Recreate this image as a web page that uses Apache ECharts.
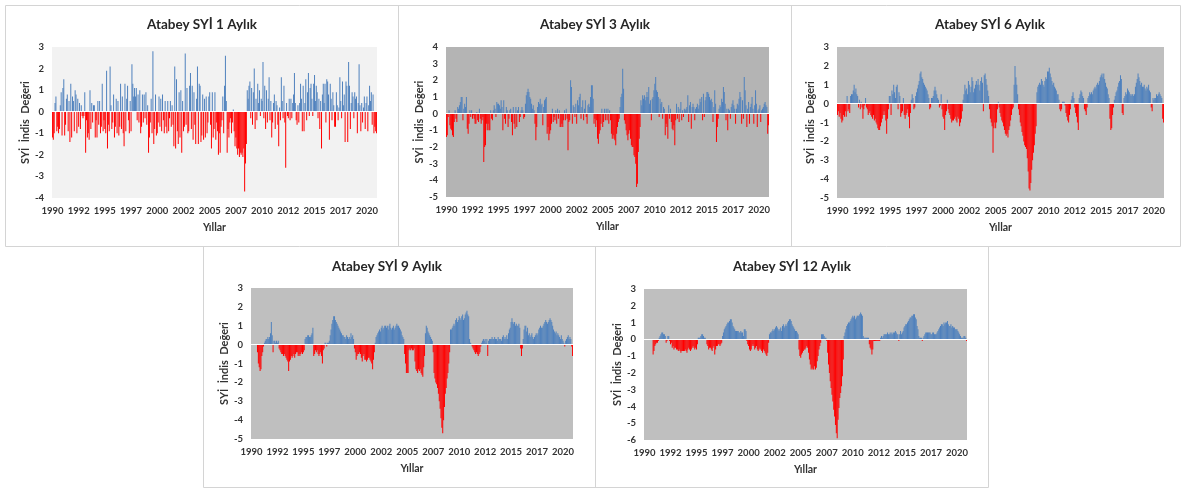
<!DOCTYPE html>
<html><head><meta charset="utf-8">
<script src="https://cdn.jsdelivr.net/npm/echarts@6/dist/echarts.min.js"></script>
<style>html,body{margin:0;padding:0;background:#fff}#c{width:1182px;height:488px}</style>
</head><body><div id="c"></div>
<script>
const years = [1990,1991,1992,1993,1994,1995,1996,1997,1998,1999,2000,2001,2002,2003,2004,2005,2006,2007,2008,2009,2010,2011,2012,2013,2014,2015,2016,2017,2018,2019,2020];
const titles = ['Atabey SYİ 1 Aylık','Atabey SYİ 3 Aylık','Atabey SYİ 6 Aylık','Atabey SYİ 9 Aylık','Atabey SYİ 12 Aylık'];
const yMins = [-4,-5,-5,-5,-6];
const yMaxs = [3,4,3,3,3];
const xName = 'Yıllar';
const yName = 'SYİ  İndis  Değeri';

const spi1 = [
-1.2,-1.3,-1.0,0.4,0.7,-0.9,-0.7,-1.0,-0.8,0.3,0.9,-1.1,
1.1,1.5,-1.1,-0.6,0.6,0.8,-0.9,0.5,-1.4,1.3,-1.2,0.7,
0.5,-0.9,1.0,0.8,-1.0,0.6,-0.7,0.4,-0.8,0.3,-0.2,-0.3,
-0.2,0.9,-1.9,-0.4,-1.2,-1.0,-1.3,1.0,-0.8,0.4,-0.5,0.3,
0.3,-1.2,-0.4,-1.2,0.5,-0.6,0.5,-1.0,-0.7,1.3,-0.9,-0.4,
-0.8,-1.0,1.9,-1.7,-0.6,-0.9,2.1,0.3,-0.8,-0.5,0.8,-1.2,
-0.7,0.6,-1.0,0.5,-1.1,-0.7,1.3,-0.8,0.7,-1.0,-1.6,1.3,
-0.9,0.6,1.2,-0.4,-1.0,0.5,-0.9,2.2,1.3,0.7,1.1,0.7,
1.1,-0.4,0.8,-0.5,1.0,-1.0,-0.7,0.8,-0.5,0.8,-0.3,0.9,
-0.6,0.3,-1.9,-1.2,-0.5,0.6,-1.0,2.8,-1.5,-0.8,0.8,-1.1,
-1.0,-0.5,0.7,-0.7,0.6,-0.9,0.8,-0.4,-1.0,0.5,-0.7,-1.0,
0.5,-0.9,-0.3,0.5,-0.7,0.3,-0.6,-1.6,2.1,-1.7,1.5,-0.9,
-1.5,0.9,-1.2,1.0,-1.9,0.5,-0.9,-0.7,2.7,-0.6,1.1,-1.0,
-0.9,1.2,1.8,-0.8,1.2,-1.3,0.9,-0.6,-1.5,0.6,2.1,-1.5,
1.3,1.2,-1.4,-1.1,0.8,-1.3,0.6,-1.2,0.7,-1.0,-0.5,0.7,
0.9,-0.6,-1.7,0.9,-1.2,-0.8,0.9,-1.3,-0.5,-0.9,-2.0,-1.0,
-1.9,-0.7,-0.4,0.7,-1.0,1.2,2.6,0.5,-1.9,-0.8,-1.2,-0.5,
-0.3,-1.0,-0.5,0.1,-0.9,-1.6,-1.2,-1.7,-2.0,-1.7,-2.1,-1.9,
-2.0,-1.9,-2.1,-1.7,-3.7,-2.4,-1.5,1.0,0.6,1.2,1.4,-0.3,
1.1,-0.6,0.9,2.0,-0.8,0.6,-0.4,1.3,0.4,1.0,-0.2,0.6,
0.5,2.3,-0.3,1.2,-0.8,1.0,-0.5,0.6,1.6,-0.4,0.5,-1.2,
-0.5,0.4,0.8,-0.8,0.5,0.3,-0.6,-1.6,0.2,-0.4,1.6,0.5,
-0.3,1.2,-0.5,-2.6,0.4,-0.2,-0.3,0.6,-0.4,0.6,-0.3,0.4,
0.8,1.8,0.4,-0.4,-0.6,0.3,-0.5,0.4,1.3,0.6,-0.9,1.2,
-0.9,0.4,1.5,-0.4,0.9,1.8,-0.2,1.1,1.3,0.6,-0.2,1.3,
1.7,0.5,1.2,0.9,-0.3,0.6,-0.8,0.5,-1.7,0.8,1.3,0.4,
1.3,-0.5,1.5,1.4,0.8,-1.3,1.3,0.6,-0.4,0.9,0.3,-0.7,
-0.7,0.9,0.3,-0.4,0.2,1.6,0.5,-0.3,1.4,0.3,0.8,-1.4,
1.4,1.2,-1.4,2.3,1.2,-0.8,0.4,0.9,0.7,-0.3,0.9,0.6,
0.7,-1.0,0.4,2.2,0.3,-0.9,0.4,-0.5,0.2,0.7,-0.8,0.4,
0.7,-0.9,0.3,1.2,0.5,0.9,-0.6,0.8,-1.0,-0.7,-0.9,-1.0
];

const spi3 = [
-1.4,-1.3,-0.2,0.2,-0.7,-0.9,-1.0,-1.3,-1.4,-0.5,0.2,-0.3,
-0.5,0.4,0.3,0.5,0.7,1.0,1.0,-0.4,0.3,0.6,0.4,1.0,
-0.9,-1.2,-0.6,0.2,-0.2,0.2,-0.3,-0.1,-0.3,-0.6,-0.6,0.1,
-0.4,-0.5,0.3,-0.3,-0.6,-0.4,-0.2,-2.9,-2.0,-1.9,-0.6,-1.0,
-0.6,-1.0,-1.0,0.2,-0.3,-0.4,0.2,0.5,0.3,-0.2,0.7,0.6,
0.6,0.5,0.3,0.8,0.4,-1.0,0.8,-0.3,-0.6,0.4,0.2,-0.8,
-0.3,0.2,0.3,-0.5,-1.3,0.4,-0.6,-0.9,0.4,-0.8,0.2,0.4,
-0.5,-0.2,0.2,0.4,0.2,-0.3,-0.2,0.6,1.1,1.3,1.5,1.3,
1.0,0.9,0.6,0.3,0.5,0.2,-0.6,-1.6,-0.8,0.4,0.7,0.6,
0.9,0.5,0.6,-0.7,0.4,0.8,0.9,1.0,-1.2,-0.8,-1.6,-1.2,
-1.0,-0.6,0.3,-0.5,-0.2,-0.4,0.2,-0.6,0.3,-0.3,0.2,-0.8,
-0.8,-0.6,-0.8,-0.4,0.2,-0.4,0.3,-0.3,-2.2,-0.5,-0.4,2.0,
1.6,-0.6,0.5,0.4,-0.2,0.6,-0.6,0.8,0.5,1.0,1.2,-0.3,
0.4,0.8,-0.4,0.3,0.8,-0.2,-0.6,0.5,0.6,0.4,1.0,1.7,
1.7,0.9,-0.6,-0.3,-0.8,-0.4,-1.5,-1.8,-1.2,-1.0,-0.6,0.3,
-0.8,-0.5,0.3,-0.4,0.3,-0.4,0.3,-0.6,0.2,-0.4,-1.2,-1.5,
-1.3,-1.5,-1.6,-1.9,-1.2,-0.8,-0.5,-0.3,0.4,1.0,1.2,2.7,
1.5,-0.4,-0.6,-1.0,-1.3,-1.6,-1.2,-1.0,-1.5,-1.9,-2.0,-2.0,
-2.5,-2.6,-3.0,-4.4,-4.2,-2.3,-1.5,-0.8,0.8,0.5,1.1,0.9,
1.1,0.8,1.0,1.3,1.0,1.6,0.6,0.8,-0.4,0.9,1.0,1.4,
1.8,2.2,1.4,1.3,1.0,-0.2,0.9,0.6,0.7,-0.3,0.4,0.3,
-1.3,-0.6,-0.8,-1.5,0.5,-0.3,0.3,-0.5,-0.9,-1.0,-0.7,-1.9,
-0.4,0.6,-0.3,0.4,-0.5,0.3,0.7,-0.4,0.2,-0.2,0.3,0.2,
0.3,0.4,1.1,-0.5,0.5,0.7,-0.9,0.4,0.6,0.4,-0.4,0.3,
0.4,0.6,0.3,0.5,0.9,0.7,1.0,-0.4,1.2,-0.2,0.8,1.0,
1.3,1.3,1.2,1.0,0.8,0.9,0.7,-0.5,0.4,1.4,0.6,-1.7,
-0.8,-0.3,0.3,0.5,0.4,0.9,0.7,1.6,1.3,0.6,-0.4,0.3,
-1.0,0.3,0.2,-0.3,0.4,0.6,0.8,0.5,0.3,-0.6,0.3,0.6,
0.5,0.9,1.3,1.0,-0.6,0.8,-0.3,2.2,1.4,0.5,-0.8,0.3,
0.7,-0.6,0.4,0.6,1.0,0.3,-0.6,0.5,1.4,0.6,-0.8,0.2,
0.3,0.5,-0.5,0.2,0.3,0.4,0.6,0.7,0.5,0.4,-1.2,-0.7
];

const spi6 = [
-0.6,-0.4,-0.7,-0.5,-0.8,-1.0,-0.9,-0.6,-0.7,-0.4,-0.7,0.4,
-0.4,-0.3,-0.5,0.4,0.5,0.5,0.7,1.0,0.6,0.8,0.5,0.4,
-0.2,0.2,-0.3,0.1,-0.2,-0.8,-0.3,-0.1,0.3,-0.2,-0.3,-0.6,
-0.5,-0.4,-0.6,-0.7,-0.8,-0.6,-0.9,-0.8,-1.0,-1.1,-1.3,-1.4,
-1.4,-1.2,-1.0,-0.8,-0.6,-0.4,-0.6,-0.9,-1.6,-0.8,-0.3,0.4,
0.4,-0.6,0.7,0.5,1.0,0.6,0.3,0.9,1.0,-0.3,0.6,0.4,
-0.7,-0.5,-0.4,0.3,-0.6,-0.8,-0.6,-0.5,-0.3,-0.7,-1.3,-0.5,
0.2,0.5,0.3,-0.3,-0.2,0.4,0.6,0.8,1.0,1.2,1.6,1.7,
1.4,1.3,1.1,1.0,0.9,0.8,0.7,0.5,0.3,-0.3,-0.2,0.3,
0.3,0.4,0.7,0.9,0.7,0.5,0.3,0.2,-0.2,-0.1,0.5,-0.3,
-0.7,-0.8,-1.4,-0.6,-0.4,0.2,-0.3,-0.5,-0.6,-0.8,-1.0,-0.9,
-0.9,-0.8,-0.7,-0.9,-1.0,-0.7,-0.8,-1.2,-1.0,-0.8,-0.4,0.2,
0.5,1.0,0.7,0.8,0.5,1.2,1.0,0.6,0.9,1.4,1.2,0.6,
0.8,1.0,1.2,1.0,1.3,1.0,0.7,1.2,1.4,1.1,-0.4,1.5,
1.6,1.3,1.0,0.7,0.4,-0.3,-0.8,-1.0,-1.2,-2.6,-1.3,-1.0,
-1.3,-1.0,-0.3,0.1,-0.2,-0.5,-0.7,-0.9,-1.0,-1.2,-1.4,-1.6,
-1.7,-1.6,-1.8,-1.4,-1.2,-0.9,-0.6,-0.3,-0.2,1.0,2.0,1.4,
1.0,0.5,-0.3,-0.6,-1.0,-1.2,-1.5,-1.7,-2.0,-2.2,-2.3,-2.4,
-2.9,-3.6,-4.5,-4.6,-4.2,-3.5,-3.0,-2.6,-2.2,-1.6,-1.2,0.6,
0.9,1.0,1.1,1.0,1.3,1.2,1.0,0.9,1.2,1.4,1.3,1.7,
1.7,1.9,1.6,1.4,1.2,1.0,1.1,0.9,0.8,0.7,0.5,0.5,
0.2,-0.3,-0.4,-0.3,0.1,0.1,0.1,-0.1,-0.5,-0.7,-0.9,-1.0,
-0.6,-0.3,0.2,0.4,0.6,0.3,-0.2,-0.5,-0.7,-1.0,-1.4,0.3,
0.5,0.7,0.6,0.4,0.3,-0.3,-0.4,-0.6,-0.2,0.3,0.4,0.6,
0.5,0.6,0.5,0.7,0.8,0.9,0.8,1.0,1.1,1.0,1.2,1.4,
1.5,1.6,1.4,1.6,1.3,1.1,0.9,0.8,0.5,0.3,-0.8,-1.4,
-1.3,-0.6,-0.2,0.2,0.4,0.6,0.7,0.9,1.1,1.2,1.5,1.3,
-0.5,-0.6,0.3,0.4,0.6,0.5,0.8,0.7,0.6,0.5,0.4,0.5,
0.5,0.4,0.5,0.9,1.1,1.3,1.6,1.4,1.2,1.0,1.1,0.9,
0.9,1.0,0.8,0.7,0.9,0.8,1.0,0.7,0.6,-0.2,-0.4,0.3,
0.2,0.3,0.3,0.5,0.4,0.5,0.6,0.5,0.4,0.3,-0.8,-1.0
];

const spi9 = [
null,null,null,null,null,null,null,-0.4,-1.0,-1.2,-1.4,-1.3,
-0.6,-0.4,-0.1,0.1,0.2,0.3,0.3,0.4,0.3,0.4,0.6,1.2,
0.5,-0.4,0.2,0.2,0.1,0.2,0.1,0.2,-0.2,-0.3,-0.4,-0.5,
-0.5,-0.6,-0.5,-0.6,-0.7,-0.8,-0.9,-1.4,-0.9,-0.8,-0.6,-0.7,
-0.6,-0.5,-0.7,-0.5,-0.4,-0.4,-0.6,-0.5,-0.6,-0.5,-0.4,-0.5,
-0.4,-0.3,0.3,0.4,0.4,0.5,0.5,0.4,0.4,0.5,0.6,0.9,
-0.6,-0.5,-0.3,-0.4,-0.3,-0.5,-0.6,-0.5,-0.4,-0.6,-1.0,-0.3,
-0.2,0.1,0.1,-0.1,0.1,0.1,0.2,0.5,0.8,1.1,1.3,1.5,
1.5,1.3,1.2,1.1,1.0,0.9,0.8,0.7,0.6,0.5,0.5,0.4,
0.4,0.3,0.5,0.4,0.3,0.4,0.3,0.6,0.4,0.5,0.3,-0.2,
-0.4,-0.8,-0.6,-0.5,-0.5,-0.4,-0.5,-0.7,-0.9,-0.6,-0.5,-0.8,
-0.8,-0.9,-0.8,-0.7,-0.7,-0.8,-0.9,-1.0,-1.3,-0.8,-0.4,0.1,
0.4,0.5,0.6,0.7,0.8,0.7,0.9,1.0,0.8,0.9,1.0,1.0,
0.9,1.0,0.8,1.0,1.1,0.9,0.8,0.9,1.0,0.8,0.9,1.0,
1.1,1.0,1.0,0.9,0.8,0.7,0.5,0.4,0.3,-0.5,-1.0,-1.5,
-1.5,-1.5,-0.3,-0.2,-0.3,-0.2,-0.3,-0.3,-0.2,-0.9,-1.3,-1.4,
-1.5,-1.3,-1.4,-1.3,-1.5,-1.6,-1.7,-1.2,-0.6,0.6,1.0,0.9,
0.7,0.6,0.5,0.4,0.3,0.2,-0.4,-1.5,-1.8,-2.0,-2.1,-2.3,
-2.6,-3.0,-3.4,-3.9,-4.4,-4.7,-4.0,-3.3,-2.6,-2.3,-1.8,-1.5,
-1.0,-0.4,0.8,0.8,0.9,1.0,1.1,1.0,1.3,1.4,1.2,1.3,
1.5,1.4,1.3,1.5,1.6,1.3,1.4,1.6,1.7,1.8,1.6,1.5,
0.3,0.1,0.05,-0.1,-0.2,-0.3,-0.4,-0.5,-0.4,-0.5,-0.6,-0.5,
-0.4,-0.1,0.1,0.2,0.3,0.2,0.3,0.1,0.3,-0.6,0.2,0.3,
0.3,0.3,0.4,0.3,0.3,0.4,0.3,0.3,0.2,0.4,0.3,0.3,
0.3,0.2,0.4,0.5,0.3,0.4,0.3,0.5,0.3,0.6,0.8,0.9,
1.2,1.4,1.2,1.1,1.2,1.0,1.1,1.0,1.0,1.1,0.9,-0.2,
-0.6,-0.2,0.3,0.8,1.0,1.0,0.7,0.9,0.5,0.6,0.4,0.5,
0.6,0.4,0.3,0.4,0.5,0.6,0.5,0.6,0.8,0.9,1.0,0.9,
0.9,1.0,1.1,1.2,1.3,1.2,1.1,1.2,1.3,1.4,1.3,1.2,
1.0,0.8,0.7,0.6,0.7,0.5,0.6,0.5,0.4,0.3,0.5,0.3,
0.2,0.1,-0.1,0.2,0.3,0.4,0.5,0.3,0.4,0.3,-0.1,-0.6
];

const spi12 = [
null,null,null,null,null,null,null,null,null,null,-0.9,-0.7,
-0.4,-0.3,-0.2,-0.2,-0.1,0.1,0.2,0.3,0.4,0.4,0.3,0.3,
0.2,-0.2,-0.1,0.2,0.2,-0.1,-0.3,-0.2,-0.5,-0.4,-0.6,-0.5,
-0.5,-0.6,-0.6,-0.7,-0.6,-0.7,-0.8,-0.7,-0.7,-0.7,-0.7,-0.6,
-0.7,-0.8,-0.6,-0.5,-0.6,-0.7,-0.6,-0.5,-0.4,-0.5,-0.6,-0.5,
-0.6,-0.3,0.1,0.1,0.1,0.2,0.3,0.3,0.2,0.1,0.1,0.0,
-0.3,-0.4,-0.6,-0.5,-0.5,-0.6,-0.7,-0.5,-0.4,-0.9,-0.6,-0.4,
-0.4,-0.3,-0.3,-0.4,-0.3,-0.2,0.2,0.4,0.6,0.7,0.8,0.9,
1.0,1.0,1.1,1.2,1.2,1.0,0.8,0.7,0.6,0.5,0.5,0.5,
0.5,0.4,0.4,0.5,0.4,0.4,0.2,0.6,0.6,0.5,-0.1,-0.3,
-0.4,-0.6,-0.7,-0.6,-0.4,-0.3,-0.4,-0.6,-0.5,-0.4,-0.6,-0.7,
-0.6,-0.5,-0.6,-0.7,-0.8,-0.6,-0.7,-0.8,-0.9,-1.0,-0.8,-0.2,
0.3,0.4,0.4,0.5,0.6,0.5,0.6,0.7,0.8,0.7,0.6,0.5,
0.6,0.7,0.5,0.8,0.9,0.7,0.8,0.9,0.8,1.0,1.1,1.2,
1.2,1.1,0.9,0.8,0.7,0.6,0.5,0.5,0.4,0.3,-0.6,-1.0,
-1.1,-0.9,-0.8,-0.7,-0.6,-0.6,-0.5,-0.4,-0.5,-0.8,-1.2,-1.5,
-1.8,-1.7,-1.8,-1.8,-1.6,-1.8,-1.7,-1.3,-1.0,-0.6,-0.4,-0.2,
0.3,0.3,0.3,0.2,0.1,0.1,-0.1,-0.8,-1.5,-2.0,-2.5,-2.9,
-3.3,-3.7,-4.2,-4.6,-5.1,-5.6,-5.9,-4.8,-4.1,-3.5,-3.2,-2.8,
-2.2,-1.2,0.2,0.4,0.6,0.8,0.9,1.0,1.0,1.1,1.2,1.3,
1.4,1.3,1.4,1.2,1.3,1.4,1.4,1.4,1.5,1.6,1.5,1.4,
0.2,0.1,0.1,0.1,0.1,0.1,0.1,-0.3,-0.5,-0.6,-0.9,-0.6,
-0.1,-0.1,-0.1,-0.1,-0.1,-0.1,-0.1,-0.1,0.1,0.2,0.1,0.2,
0.3,0.3,0.3,0.3,0.4,0.3,0.3,0.4,0.3,0.4,0.3,0.4,
0.4,0.5,0.4,0.3,0.3,-0.1,0.3,0.5,0.3,0.4,0.5,0.7,
0.8,0.9,0.9,1.0,1.1,1.2,1.3,1.3,1.4,1.4,1.5,1.5,
1.3,1.2,0.8,0.6,0.2,0.1,0.1,0.1,-0.1,0.1,0.2,0.3,
0.4,0.4,0.4,0.4,0.4,0.4,0.3,0.3,0.4,0.4,0.3,0.3,
0.3,0.4,0.5,0.6,0.7,0.8,0.9,0.9,0.8,1.0,0.9,1.0,
1.0,1.1,0.9,0.8,0.8,0.9,0.7,0.8,0.7,0.7,0.6,0.6,
0.6,0.5,0.4,0.3,0.2,0.1,0.1,0.1,0.2,0.2,0.1,-0.1
];

const seriesData = [spi1, spi3, spi6, spi9, spi12];

// ---- layout / styling ----
const FONT = 'Lato, "Liberation Sans", sans-serif';
const grids = [
  {left:52, top:47, width:325, height:151},
  {left:446, top:47, width:323, height:150},
  {left:837, top:47, width:327, height:151},
  {left:251, top:288, width:322, height:151},
  {left:644, top:289, width:323, height:151}
];
const plotBg = ['#f2f2f2','#b4b4b4','#bfbfbf','#bfbfbf','#bfbfbf'];
const titlePos = [[202,25],[595,25],[990,25],[387,267],[792,267]];
const BLUE = '#4f81bd', RED = '#ff0000';

const categories = [];
years.forEach(y => { for (let m = 0; m < 12; m++) categories.push(String(y)); });

const chart = echarts.init(document.getElementById('c'), null, {renderer:'canvas'});

const lineEl = (x1,y1,x2,y2) => ({type:'line', silent:true, z:-10,
  shape:{x1,y1,x2,y2}, style:{stroke:'#d4d4d4', lineWidth:1}});

const graphics = [
  lineEl(5.5,5.5,1180.5,5.5), lineEl(5.5,246.5,1180.5,246.5),
  lineEl(5.5,5.5,5.5,246.5), lineEl(398.5,5.5,398.5,246.5),
  lineEl(791.5,5.5,791.5,246.5), lineEl(1180.5,5.5,1180.5,246.5),
  lineEl(203.5,246.5,203.5,487.5), lineEl(595.5,246.5,595.5,487.5),
  lineEl(988.5,246.5,988.5,487.5), lineEl(203.5,487.5,988.5,487.5)
];
titles.forEach((t,i) => graphics.push({type:'text', silent:true, x:titlePos[i][0], y:titlePos[i][1],
  style:{text:t, fontSize:13.5, fontWeight:'bold', fontFamily:FONT, fill:'#262626', textAlign:'center', textVerticalAlign:'middle'}}));

const option = {
  animation:false,
  backgroundColor:'#ffffff',
  graphic: graphics,
  grid: grids.map((g,i) => Object.assign({show:true, backgroundColor:plotBg[i], borderWidth:0, containLabel:false}, g)),
  xAxis: grids.map((g,i) => ({
    type:'category', gridIndex:i, data:categories,
    axisLine:{show:false}, axisTick:{show:false}, splitLine:{show:false},
    axisLabel:{interval:29, fontSize:9.5, fontWeight:'bold', color:'#333333', fontFamily:FONT, margin:8},
    name:xName, nameLocation:'middle', nameGap:24,
    nameTextStyle:{fontSize:10.5, fontWeight:'bold', color:'#333333', fontFamily:FONT}
  })),
  yAxis: grids.map((g,i) => ({
    type:'value', gridIndex:i, min:yMins[i], max:yMaxs[i], interval:1,
    axisLine:{show:false}, axisTick:{show:false}, splitLine:{show:false},
    axisLabel:{fontSize:9.5, fontWeight:'bold', color:'#333333', fontFamily:FONT, margin:8},
    name:yName, nameLocation:'middle', nameRotate:90, nameGap:21,
    nameTextStyle:{fontSize:11, fontWeight:'bold', color:'#333333', fontFamily:FONT}
  })),
  series: seriesData.map((d,i) => ({
    type:'bar', xAxisIndex:i, yAxisIndex:i, data:d,
    barCategoryGap:'10%',
    itemStyle:{ color: p => (p.value >= 0 ? BLUE : RED) },
    markLine:{silent:true, symbol:'none', label:{show:false}, animation:false,
      lineStyle:{color:'#ffffff', width:1.2, type:'solid'}, data:[{yAxis:0}]}
  }))
};
chart.setOption(option);
</script>
</body></html>
